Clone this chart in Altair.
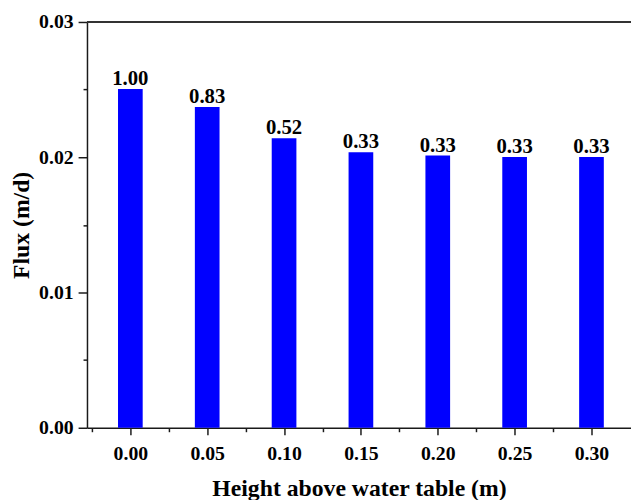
import altair as alt
import pandas as pd

# ---- data ----
heights = [0.00, 0.05, 0.10, 0.15, 0.20, 0.25, 0.30]
flux = [0.02504, 0.02372, 0.02141, 0.02036, 0.02012, 0.02002, 0.02002]
bar_labels = ["1.00", "0.83", "0.52", "0.33", "0.33", "0.33", "0.33"]
y_major = [0.00, 0.01, 0.02, 0.03]
y_minor = [0.005, 0.015, 0.025]
x_minor = [-0.025, 0.025, 0.075, 0.125, 0.175, 0.225, 0.275]

df = pd.DataFrame({"h": heights, "flux": flux, "lab": bar_labels})

W, H = 551, 411
FONT = "Liberation Serif"
AX = "#1a1a1a"

xscale = alt.Scale(domain=[-0.025, 0.3225], nice=False, zero=False)
yscale = alt.Scale(domain=[0, 0.03], nice=False)

base = alt.Chart(df)

bars = base.mark_bar(size=25, color="#0000ff").encode(
    x=alt.X("h:Q", scale=xscale,
            axis=alt.Axis(orient="bottom", values=heights, format=".2f",
                          title="Height above water table (m)",
                          tickSize=7, tickWidth=1.5, tickColor=AX,
                          domainColor=AX, domainWidth=1.5,
                          labelPadding=9, titlePadding=14, grid=False)),
    y=alt.Y("flux:Q", scale=yscale,
            axis=alt.Axis(orient="left", values=y_major, format=".2f",
                          title="Flux (m/d)",
                          tickSize=9, tickWidth=1.5, tickColor=AX,
                          domainColor=AX, domainWidth=1.5,
                          labelPadding=5, titlePadding=5, grid=False)),
)

text = base.mark_text(baseline="alphabetic", dy=-4, font=FONT,
                      fontSize=21, fontWeight="bold", color="black").encode(
    x=alt.X("h:Q", scale=xscale, axis=None),
    y=alt.Y("flux:Q", scale=yscale, axis=None),
    text="lab:N",
)

minor = base.mark_point(opacity=0).encode(
    x=alt.X("h:Q", scale=xscale,
            axis=alt.Axis(orient="bottom", values=x_minor, labels=False,
                          domain=False, tickSize=4, tickWidth=1.5,
                          tickColor=AX, title=None, grid=False)),
    y=alt.Y("flux:Q", scale=yscale,
            axis=alt.Axis(orient="left", values=y_minor, labels=False,
                          domain=False, tickSize=4, tickWidth=1.5,
                          tickColor=AX, title=None, grid=False)),
)

top = base.mark_rule(color="#333333", strokeWidth=1.5).encode(
    x=alt.value(0), x2=alt.value(W), y=alt.value(0)
)

chart = (
    alt.layer(bars, text, minor, top)
    .resolve_axis(x="independent", y="independent")
    .properties(width=W, height=H, autosize=alt.AutoSizeParams(type="none"),
                padding={"left": 80, "top": 11, "right": 0, "bottom": 70})
    .configure_view(stroke=None)
    .configure_axis(labelFont=FONT, labelFontSize=20, labelFontWeight="bold",
                    labelColor="black", titleFont=FONT, titleFontSize=24,
                    titleFontWeight="bold", titleColor="black")
)

chart.save("out.html", embed_options={"renderer": "svg", "actions": False})
